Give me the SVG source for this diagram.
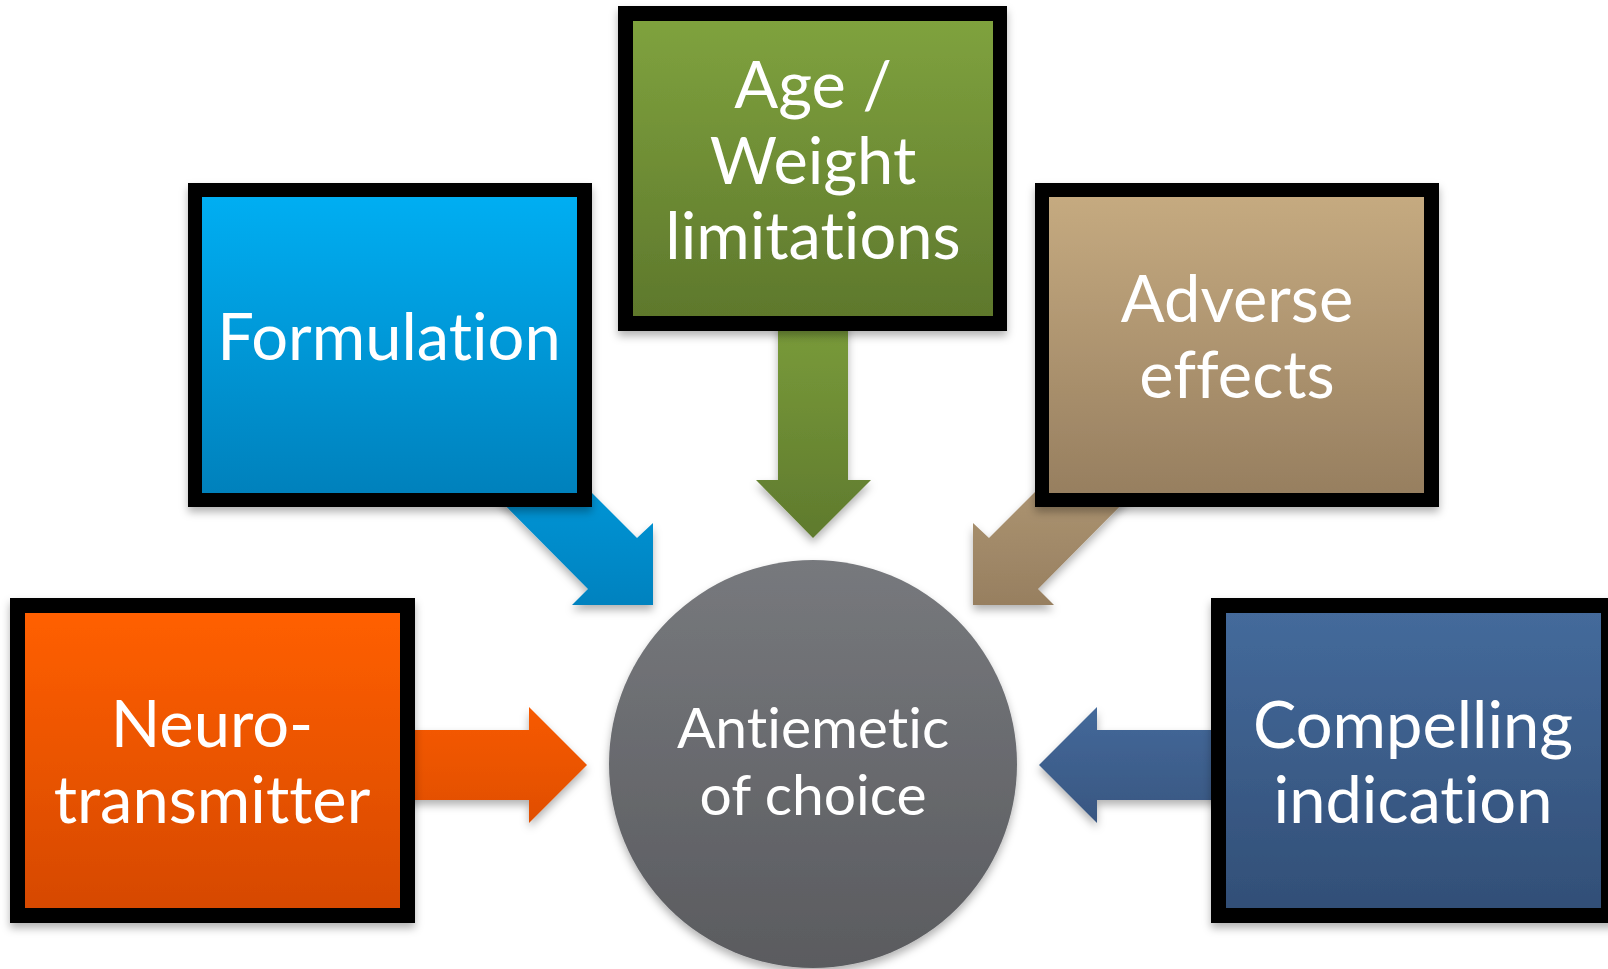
<svg xmlns="http://www.w3.org/2000/svg" width="1608" height="969" viewBox="0 0 1608 969">
  <defs>
    <linearGradient id="gOrange" x1="0" y1="0" x2="0" y2="1"><stop offset="0" stop-color="#FF5F00"/><stop offset="1" stop-color="#D64900"/></linearGradient>
    <linearGradient id="gBlue" x1="0" y1="0" x2="0" y2="1"><stop offset="0" stop-color="#00AEF2"/><stop offset="1" stop-color="#0081BC"/></linearGradient>
    <linearGradient id="gGreen" x1="0" y1="0" x2="0" y2="1"><stop offset="0" stop-color="#7FA23E"/><stop offset="1" stop-color="#5E782C"/></linearGradient>
    <linearGradient id="gTan" x1="0" y1="0" x2="0" y2="1"><stop offset="0" stop-color="#C5AA80"/><stop offset="1" stop-color="#977F60"/></linearGradient>
    <linearGradient id="gNavy" x1="0" y1="0" x2="0" y2="1"><stop offset="0" stop-color="#446A9B"/><stop offset="1" stop-color="#324F77"/></linearGradient>
    <linearGradient id="gGray" x1="0" y1="0" x2="0" y2="1"><stop offset="0" stop-color="#77797D"/><stop offset="1" stop-color="#5A5B5F"/></linearGradient>
    <linearGradient id="aOrange" x1="0" y1="0" x2="0" y2="1"><stop offset="0" stop-color="#F75A00"/><stop offset="1" stop-color="#E04E00"/></linearGradient>
    <linearGradient id="aGreen" x1="0" y1="0" x2="0" y2="1"><stop offset="0" stop-color="#7A9C3B"/><stop offset="1" stop-color="#5F7A2D"/></linearGradient>
    <linearGradient id="aBlue" x1="0" y1="0" x2="0" y2="1"><stop offset="0" stop-color="#0096D7"/><stop offset="1" stop-color="#0082BF"/></linearGradient>
    <linearGradient id="aTan" x1="0" y1="0" x2="0" y2="1"><stop offset="0" stop-color="#AD9572"/><stop offset="1" stop-color="#977F60"/></linearGradient>
    <linearGradient id="aNavy" x1="0" y1="0" x2="0" y2="1"><stop offset="0" stop-color="#44699A"/><stop offset="1" stop-color="#385681"/></linearGradient>
    <filter id="shadow" x="-10%" y="-10%" width="120%" height="125%">
      <feDropShadow dx="0" dy="5" stdDeviation="4" flood-color="#000000" flood-opacity="0.3"/>
    </filter>
  </defs>
  <style>
    .frame { fill: #000000; }
    .lbl { font-family: Lato, "Open Sans", "Liberation Sans", sans-serif; font-size: 65px; fill: #FFFFFF; text-anchor: middle; font-variant-ligatures: none; font-feature-settings: "liga" 0, "clig" 0; }
    .clbl { font-family: Lato, "Open Sans", "Liberation Sans", sans-serif; font-size: 57px; fill: #FFFFFF; text-anchor: middle; font-variant-ligatures: none; font-feature-settings: "liga" 0, "clig" 0; }
    .arrow { filter: url(#shadow); }
  </style>
  <rect x="0" y="0" width="1608" height="969" fill="#FFFFFF"/>

  <g id="connectors">
    <polygon class="arrow" fill="url(#aOrange)" points="400,730 529,730 529,707 587,765 529,823 529,800 400,800"/>
    <polygon class="arrow" fill="url(#aNavy)" points="1226,730 1097,730 1097,707 1039,765 1097,823 1097,800 1226,800"/>
    <polygon class="arrow" fill="url(#aGreen)" points="778,316 848,316 848,480 871,480 813,538 756,480 778,480"/>
    <polygon class="arrow" fill="url(#aBlue)" points="579,480 637,538 653,523 653,605 572,605 588,589 480,480"/>
    <polygon class="arrow" fill="url(#aTan)" points="1047,480 989,538 973,523 973,605 1054,605 1038,589 1146,480"/>
  </g>

  <g id="node-neurotransmitter" filter="url(#shadow)">
    <rect class="frame" x="10" y="598" width="405" height="325"/>
    <rect x="25" y="613" width="375" height="295" fill="url(#gOrange)"/>
    <text class="lbl" x="212" y="747">Neuro-</text>
    <text class="lbl" x="212" y="823">transmitter</text>
  </g>

  <g id="node-formulation" filter="url(#shadow)">
    <rect class="frame" x="188" y="183" width="404" height="324"/>
    <rect x="202" y="197" width="375" height="296" fill="url(#gBlue)"/>
    <text class="lbl" x="389" y="360">Formulation</text>
  </g>

  <g id="node-age-weight" filter="url(#shadow)">
    <rect class="frame" x="618" y="6" width="389" height="325"/>
    <rect x="633" y="21" width="360" height="295" fill="url(#gGreen)"/>
    <text class="lbl" x="813" y="108">Age /</text>
    <text class="lbl" x="813" y="184">Weight</text>
    <text class="lbl" x="813" y="259">limitations</text>
  </g>

  <g id="node-adverse" filter="url(#shadow)">
    <rect class="frame" x="1035" y="183" width="404" height="324"/>
    <rect x="1049" y="197" width="375" height="296" fill="url(#gTan)"/>
    <text class="lbl" x="1237" y="322">Adverse</text>
    <text class="lbl" x="1237" y="398">effects</text>
  </g>

  <g id="node-compelling" filter="url(#shadow)">
    <rect class="frame" x="1211" y="598" width="405" height="325"/>
    <rect x="1226" y="613" width="375" height="295" fill="url(#gNavy)"/>
    <text class="lbl" x="1413" y="748">Compelling</text>
    <text class="lbl" x="1413" y="823">indication</text>
  </g>

  <g id="node-antiemetic">
    <circle cx="813" cy="764" r="204" fill="url(#gGray)" filter="url(#shadow)"/>
    <text class="clbl" x="813" y="748">Antiemetic</text>
    <text class="clbl" x="813" y="815">of choice</text>
  </g>
</svg>
